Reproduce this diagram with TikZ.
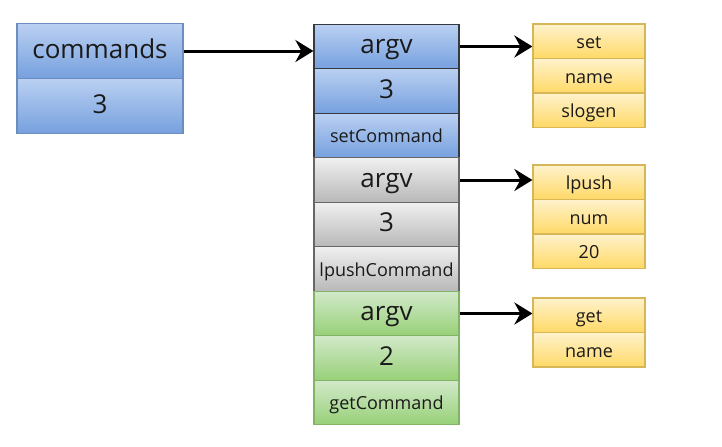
\documentclass[tikz,border=0pt]{standalone}
\usepackage{fontspec}
\setmainfont{Open Sans}
\usetikzlibrary{arrows.meta}
\definecolor{bluetop}{RGB}{186,208,242}
\definecolor{bluebot}{RGB}{118,160,222}
\definecolor{blueline}{RGB}{108,142,191}
\definecolor{darkline}{RGB}{54,57,61}
\definecolor{graytop}{RGB}{240,240,240}
\definecolor{graybot}{RGB}{184,184,184}
\definecolor{grayline}{RGB}{102,102,102}
\definecolor{greentop}{RGB}{210,233,202}
\definecolor{greenbot}{RGB}{151,208,119}
\definecolor{greenline}{RGB}{130,179,102}
\definecolor{yeltop}{RGB}{255,242,204}
\definecolor{yelbot}{RGB}{255,217,102}
\definecolor{yelline}{RGB}{214,182,86}
\definecolor{ink}{RGB}{26,26,26}

\begin{document}
\begin{tikzpicture}[x=0.5pt,y=-0.5pt,
    cell/.style={draw,rectangle,inner sep=0pt,text=ink,line width=0.6pt,
        text height=0.72em,text depth=0pt},
    bigtext/.style={font=\fontsize{13}{15}\selectfont},
    smalltext/.style={font=\fontsize{9}{11}\selectfont},
    headcell/.style={cell,bigtext,minimum width=83pt,minimum height=27.5pt,
        draw=blueline,top color=bluetop,bottom color=bluebot},
    bluecell/.style={cell,minimum width=72.5pt,minimum height=22.25pt,
        draw=darkline,top color=bluetop,bottom color=bluebot},
    graycell/.style={cell,minimum width=72.5pt,minimum height=22.25pt,
        draw=grayline,top color=graytop,bottom color=graybot},
    greencell/.style={cell,minimum width=72.5pt,minimum height=22.25pt,
        draw=greenline,top color=greentop,bottom color=greenbot},
    argcell/.style={cell,font=\fontsize{9}{11}\selectfont,minimum width=56pt,minimum height=17.25pt,
        draw=yelline,top color=yeltop,bottom color=yelbot},
    link/.style={line width=1.5pt,-{Stealth[length=9pt,width=11pt,inset=3pt]}}]
        \useasboundingbox (0,0) rectangle (722,446);
        % Define the nodes
        \node[headcell]            (cmds)   at (100,51)    {commands};
        \node[headcell]            (cmdsN)  at (100,106)   {3};
        % setCommand
        \node[bluecell,bigtext]    (argvS)  at (386.5,46.5)  {argv};
        \node[bluecell,bigtext]    (nS)     at (386.5,91)    {3};
        \node[bluecell,smalltext]  (setC)   at (386.5,135.5) {setCommand};
        % lpushCommand
        \node[graycell,bigtext]    (argvL)  at (386.5,180)   {argv};
        \node[graycell,bigtext]    (nL)     at (386.5,224.5) {3};
        \node[graycell,smalltext]  (lpushC) at (386.5,269)   {lpushCommand};
        % getCommand
        \node[greencell,bigtext]   (argvG)  at (386.5,313.5) {argv};
        \node[greencell,bigtext]   (nG)     at (386.5,358)   {2};
        \node[greencell,smalltext] (getC)   at (386.5,402.5) {getCommand};
        % argument lists
        \node[argcell] (set)     at (589,41.3)  {set};
        \node[argcell] (setname) at (589,75.8)  {name};
        \node[argcell] (slogen)  at (589,110.3) {slogen};
        \node[argcell] (lpush)   at (589,182.3) {lpush};
        \node[argcell] (num)     at (589,216.8) {num};
        \node[argcell] (twenty)  at (589,251.3) {20};
        \node[argcell] (get)     at (589,315.3) {get};
        \node[argcell] (getname) at (589,349.8) {name};
        % Connect the nodes
        \draw[link] (cmds.east)  -- (cmds.east -| argvS.west);
        \draw[link] (argvS.east) -- (argvS.east -| set.west);
        \draw[link] (argvL.east) -- (argvL.east -| lpush.west);
        \draw[link] (argvG.east) -- (argvG.east -| get.west);
    \end{tikzpicture}
\end{document}
